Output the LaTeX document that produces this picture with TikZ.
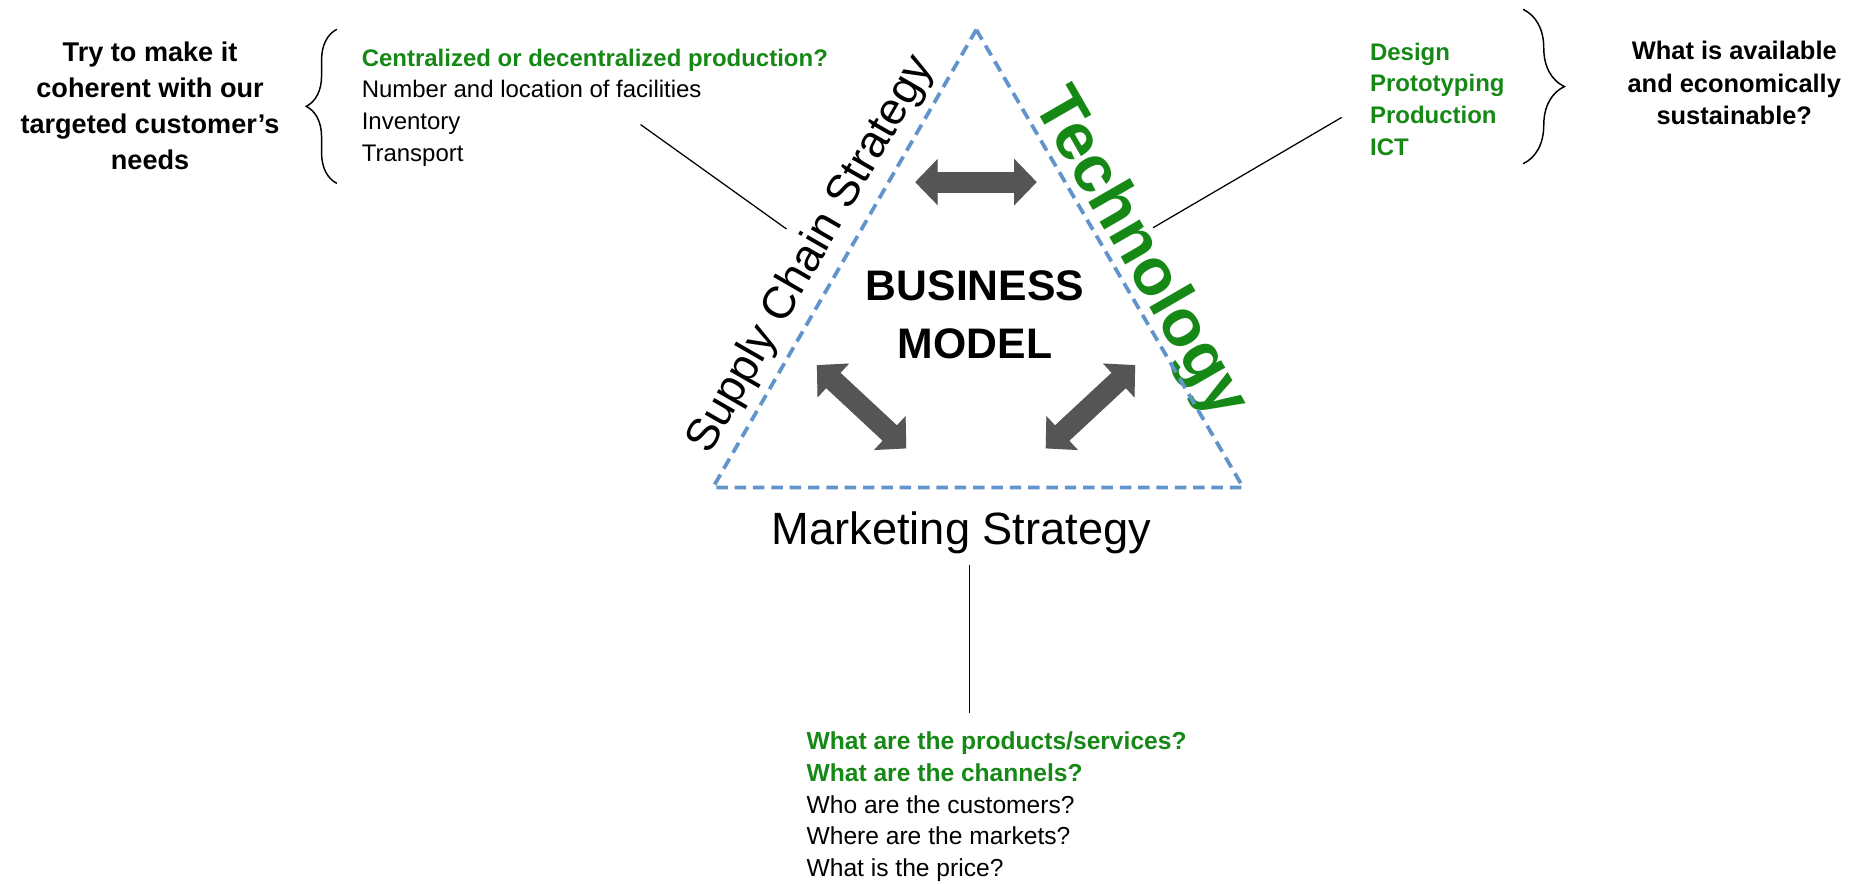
\documentclass[tikz,border=0pt]{standalone}
\usepackage{fontspec}
\setmainfont{Liberation Sans}
\usetikzlibrary{arrows.meta,decorations.pathreplacing}

\definecolor{techgreen}{RGB}{22,136,22}
\definecolor{sideblue}{RGB}{98,148,204}
\definecolor{arrowgray}{RGB}{85,85,85}

\begin{document}
\begin{tikzpicture}
        [x=0.02cm,y=-0.02cm,every node/.style={inner sep=0,outer sep=0},
        triside/.style={draw=sideblue,line width=1.8pt,dash pattern=on 5.5pt off 3.3pt,line join=round},
        biarrow/.style={draw=arrowgray,line width=0.354cm,{Triangle[width=0.76cm,length=0.38cm]}-{Triangle[width=0.76cm,length=0.38cm]}},
        biarrowshadow/.style={biarrow,draw=black!20,shift={(2,3)}},
        leaderline/.style={draw,line width=0.6pt},
        bracebar/.style={draw,line width=0.7pt,decorate,decoration={brace,amplitude=#1}},
        sidenote/.style={align=center,anchor=north},
        itemlist/.style={align=left,anchor=north west},
        stratlabel/.style={font=\fontsize{21.7}{26}\selectfont}]

        \useasboundingbox (0,0) rectangle (1568,745);

        \coordinate (top) at (823,25);
        \coordinate (bl) at (601,411);
        \coordinate (br) at (1048,411);

        \node[sidenote,font=\fontsize{13}{17.3}\selectfont\bfseries] (fit) at (126.5,35) {Try to make it\\coherent with our\\targeted customer’s\\needs};
        \node[itemlist,font=\fontsize{11.5}{15.3}\selectfont] (scitems) at (305,41) {{\color{techgreen}\bfseries Centralized or decentralized production?}\\Number and location of facilities\\Inventory\\Transport};
        \node[itemlist,font=\fontsize{11.5}{15.2}\selectfont\bfseries,text=techgreen] (techitems) at (1155,36) {Design\\Prototyping\\Production\\ICT};
        \node[sidenote,font=\fontsize{12.2}{15.6}\selectfont\bfseries] (avail) at (1462,35) {What is available\\and economically\\sustainable?};

        \node[sidenote,font=\fontsize{20.5}{27.8}\selectfont\bfseries] (bm) at (822,228) {BUSINESS\\MODEL};
        \node[stratlabel,rotate=60] (sc) at (684,215) {Supply Chain Strategy};
        \node[font=\fontsize{31.8}{38}\selectfont\bfseries,text=techgreen,rotate=-60] (tech) at (960,214) {Technology};
        \node[stratlabel,anchor=base] (mkt) at (810.5,458.7) {Marketing Strategy};
        \node[itemlist,font=\fontsize{11.8}{15.2}\selectfont] (mktitems) at (680,617) {{\color{techgreen}\bfseries What are the products/services?}\\{\color{techgreen}\bfseries What are the channels?}\\Who are the customers?\\Where are the markets?\\What is the price?};

        \coordinate (t1) at (771.5,153.5);
        \coordinate (t2) at (874,153.5);
        \coordinate (l1) at (688.6,307.8);
        \coordinate (l2) at (764,378);
        \coordinate (r1) at (957,307.8);
        \coordinate (r2) at (881.5,378);

        \coordinate (scend) at (540,105);
        \coordinate (scside) at (663,193);
        \coordinate (techside) at (972,192);
        \coordinate (techend) at (1131,99);
        \coordinate (mkttop) at (817,476);
        \coordinate (mktend) at (817,601);

        \draw[triside] (top) -- (br) -- (bl) -- cycle;

        \draw[biarrowshadow] (t1) -- (t2);
        \draw[biarrowshadow] (l1) -- (l2);
        \draw[biarrowshadow] (r1) -- (r2);
        \draw[biarrow] (t1) -- (t2);
        \draw[biarrow] (l1) -- (l2);
        \draw[biarrow] (r1) -- (r2);

        \draw[leaderline] (scend) -- (scside);
        \draw[leaderline] (techside) -- (techend);
        \draw[leaderline] (mkttop) -- (mktend);

        \draw[bracebar=14.7pt] (284,154.6) -- (284,24.7);
        \draw[bracebar=19.8pt] (1284,7.9) -- (1284,138);
      \end{tikzpicture}
\end{document}
